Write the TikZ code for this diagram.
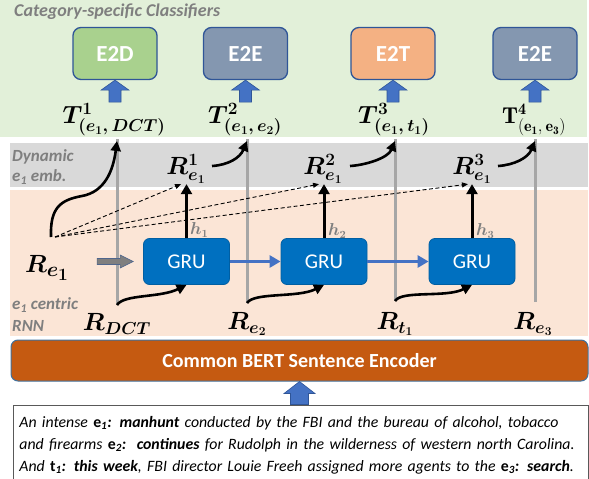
\documentclass[tikz,border=0pt]{standalone}
\usepackage{amsmath}
\usepackage{bm}
\usepackage{fontspec}
\newfontfamily\calfont{Carlito}
\usetikzlibrary{arrows.meta}
\definecolor{bggreen}{HTML}{E2F0D9}
\definecolor{bggrey}{HTML}{D9D9D9}
\definecolor{bgpeach}{HTML}{FBE5D6}
\definecolor{clsborder}{HTML}{2F5597}
\definecolor{e2dgreen}{HTML}{A9D18E}
\definecolor{e2eblue}{HTML}{8497B0}
\definecolor{e2torange}{HTML}{F4B183}
\definecolor{arrblue}{HTML}{4472C4}
\definecolor{grublue}{HTML}{0070C0}
\definecolor{bertorange}{HTML}{C55A11}
\definecolor{bertborder}{HTML}{41719C}
\definecolor{lblgrey}{HTML}{7F7F7F}
\definecolor{linegrey}{HTML}{A6A6A6}
\definecolor{boxgrey}{HTML}{595959}
\tikzset{
  clsbox/.style={draw=clsborder, line width=1.3pt, rounded corners=8pt, minimum width=84pt, minimum height=52pt, text=white, font=\calfont\bfseries\fontsize{23}{27}\selectfont},
  grubox/.style={fill=grublue, draw=grublue!85!black, line width=0.8pt, rounded corners=6pt, minimum width=86pt, minimum height=46pt, text=white, font=\calfont\fontsize{21}{25}\selectfont},
  greylbl/.style={text=lblgrey, font=\calfont\bfseries\itshape\fontsize{17}{20}\selectfont, anchor=west, inner sep=0pt},
  mlbl/.style={inner sep=0.5pt, font=\fontsize{23}{27}\selectfont},
  ilbl/.style={inner sep=0.5pt, font=\fontsize{25}{29}\selectfont},
  hlbl/.style={inner sep=0pt, text=lblgrey, font=\fontsize{16}{19}\selectfont, anchor=west},
  grayline/.style={draw=linegrey, line width=3pt},
  curvearr/.style={line width=2.6pt, -{Triangle[length=10pt,width=10pt]}},
  vertarr/.style={line width=3pt, -{Triangle[length=10pt,width=11pt]}},
  dasharr/.style={line width=0.9pt, dash pattern=on 4pt off 2.5pt, -{Triangle[length=6pt,width=5pt]}},
  bluearr/.style={draw=arrblue, line width=3pt, -{Triangle[length=11pt,width=12pt]}},
  upblk/.pic={\filldraw[fill=arrblue, draw=clsborder, line width=0.6pt] (0,0) -- (14,10) -- (6,10) -- (6,22) -- (-6,22) -- (-6,10) -- (-14,10) -- cycle;},
  upblkbig/.pic={\filldraw[fill=arrblue, draw=clsborder, line width=0.6pt] (0,0) -- (15.5,12) -- (9,12) -- (9,23) -- (-9,23) -- (-9,12) -- (-15.5,12) -- cycle;},
  rightblk/.pic={\filldraw[fill=lblgrey, draw=clsborder!60!lblgrey, line width=0.6pt] (0,0) -- (-13,-6.5) -- (-13,-3) -- (-36,-3) -- (-36,3) -- (-13,3) -- (-13,6.5) -- cycle;}
}
\begin{document}
\begin{tikzpicture}[x=1pt,y=-1pt]
\useasboundingbox (0,0) rectangle (589,479);
% backgrounds
\fill[bggreen] (0,0) rectangle (587,137);
\fill[bggrey] (10,143) rectangle (588,187);
\fill[bgpeach] (10,190) rectangle (588,336);
% region labels
\node[greylbl, font=\calfont\bfseries\itshape\fontsize{18}{20}\selectfont] (cat) at (14,12) {Category-specific Classifiers};
\node[greylbl] (dyn1) at (12,157) {Dynamic};
\node[greylbl] (dyn2) at (12,177) {e\textsubscript{1} emb.};
\node[greylbl] (cen1) at (12,305) {e\textsubscript{1} centric};
\node[greylbl] (cen2) at (12,326) {RNN};
% classifiers
\node[clsbox, fill=e2dgreen] (c1) at (115,53.5) {E2D};
\node[clsbox, fill=e2eblue] (c2) at (245.5,53.5) {E2E};
\node[clsbox, fill=e2torange] (c3) at (393,53.5) {E2T};
\node[clsbox, fill=e2eblue] (c4) at (535,53.5) {E2E};
\pic at (c1.south) {upblk};
\pic at (c2.south) {upblk};
\pic at (c3.south) {upblk};
\pic at (c4.south) {upblk};
% T labels
\node[mlbl] (T1) at (114,120) {$\boldsymbol{T^{1}_{(e_1,\,DCT)}}$};
\node[mlbl] (T2) at (245,120) {$\boldsymbol{T^{2}_{(e_1,\,e_2)}}$};
\node[mlbl] (T3) at (394,120) {$\boldsymbol{T^{3}_{(e_1,\,t_1)}}$};
\node[mlbl] (T4) at (534,120) {$\mathbf{T^{4}_{(e_1,\,e_3)}}$};
% dynamic embeddings
\node[mlbl] (R1) at (186,169) {$\boldsymbol{R^{1}_{e_1}}$};
\node[mlbl] (R2) at (323,169) {$\boldsymbol{R^{2}_{e_1}}$};
\node[mlbl] (R3) at (472,169) {$\boldsymbol{R^{3}_{e_1}}$};
% inputs
\node[ilbl, font=\fontsize{32}{36}\selectfont] (Re1) at (47,268) {$\boldsymbol{R_{e_1}}$};
\node[ilbl] (RDCT) at (117,324) {$\boldsymbol{R_{DCT}}$};
\node[ilbl] (Re2) at (247,324) {$\boldsymbol{R_{e_2}}$};
\node[ilbl] (Rt1) at (395,324) {$\boldsymbol{R_{t_1}}$};
\node[ilbl] (Re3) at (533,324) {$\boldsymbol{R_{e_3}}$};
% GRUs
\node[grubox] (g1) at (186.5,261.5) {GRU};
\node[grubox] (g2) at (324,261.5) {GRU};
\node[grubox] (g3) at (472,261.5) {GRU};
\node[hlbl] (h1) at (190,230) {$\boldsymbol{h_1}$};
\node[hlbl] (h2) at (328,231) {$\boldsymbol{h_2}$};
\node[hlbl] (h3) at (476,231) {$\boldsymbol{h_3}$};
% coordinates
\coordinate (b1) at (117,305); \coordinate (t1) at (117,141);
\coordinate (b2) at (247,303); \coordinate (t2) at (247,141);
\coordinate (b3) at (395,301); \coordinate (t3) at (395,141);
\coordinate (b4) at (535,302); \coordinate (t4) at (535,141);
\coordinate (s0) at (51,237);
\coordinate (d0) at (55,237);
\coordinate (s1) at (212,166);
\coordinate (s2) at (350,166);
\coordinate (s3) at (498,166);
% grey lines
\draw[grayline] (b1) -- ([yshift=2pt]t1);
\draw[grayline] (b2) -- ([yshift=2pt]t2);
\draw[grayline] (b3) -- ([yshift=2pt]t3);
\draw[grayline] (b4) -- ([yshift=2pt]t4);
% curved arrows to T
\draw[curvearr] (s0) .. controls (50,208) and (60,200) .. (82,196) .. controls (104,192) and (113,172) .. (t1);
\draw[curvearr] (s1) .. controls (228,165) and (240,158) .. (t2);
\draw[curvearr] (s2) .. controls (366,165) and (388,158) .. (t3);
\draw[curvearr] (s3) .. controls (514,165) and (528,158) .. (t4);
% inputs into GRUs
\draw[curvearr] (b1) .. controls (124,294) and (160,298) .. (g1.south);
\draw[curvearr] (b2) .. controls (254,292) and (298,298) .. (g2.south);
\draw[curvearr] (b3) .. controls (402,290) and (446,298) .. (g3.south);
% GRU outputs
\draw[vertarr] (g1.north) -- (g1.north |- R1.south);
\draw[vertarr] (g2.north) -- (g2.north |- R2.south);
\draw[vertarr] (g3.north) -- (g3.north |- R3.south);
% dashed attention
\draw[dasharr] (d0) -- ([xshift=-5pt]R1.south);
\draw[dasharr] (d0) -- ([xshift=-4pt]R2.south);
\draw[dasharr] (d0) -- ([xshift=-4pt]R3.south);
% recurrent arrows
\draw[bluearr] (g1.east) -- (g2.west);
\draw[bluearr] (g2.east) -- (g3.west);
\pic at ([xshift=-10pt]g1.west) {rightblk};
% encoder
\node[draw=bertborder, fill=bertorange, line width=1pt, rounded corners=7pt, minimum width=577pt, minimum height=41pt, text=white, font=\calfont\bfseries\fontsize{20}{23}\selectfont] (bert) at (299.5,360.5) {Common BERT Sentence Encoder};
\pic at (bert.south) {upblkbig};
\node[draw=boxgrey, line width=0.8pt, anchor=north west, text width=563pt, minimum height=74pt, inner xsep=6pt, align=left, font=\calfont\itshape\fontsize{15.8}{22}\selectfont] (sent) at (13,405) {\rule{0pt}{17pt}An intense \textbf{\textup{e}\textsubscript{1}: manhunt} conducted by the FBI and the bureau of alcohol, tobacco\\
and firearms \textbf{\textup{e}\textsubscript{2}:\ \ continues} for Rudolph in the wilderness of western north Carolina.\\
And \textbf{\textup{t}\textsubscript{1}: this week}, FBI director Louie Freeh assigned more agents to the \textbf{\textup{e}\textsubscript{3}: search}.};
\end{tikzpicture}
\end{document}
